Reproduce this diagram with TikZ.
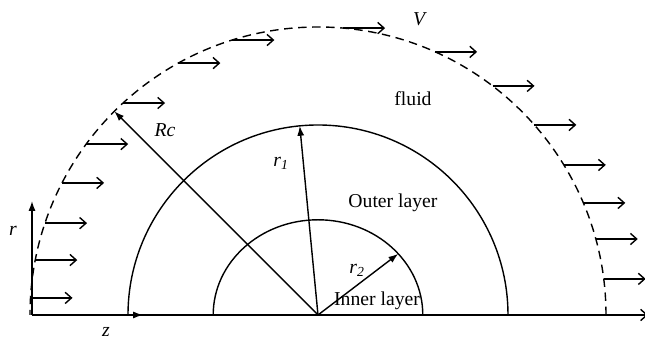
\documentclass[tikz,border=0pt]{standalone}
\usepackage{fontspec}
\setmainfont{Liberation Serif}
\usetikzlibrary{arrows.meta}

\tikzset{
  velarrow/.style={-{Straight Barb[length=4.5pt,width=8pt]}},
  radiusarrow/.style={-{Latex[length=7pt,width=5pt]}},
  boundary/.style={dash pattern=on 6pt off 4pt}
}

\begin{document}
\begin{tikzpicture}[line width=1pt, font=\fontsize{14}{16}\selectfont]
\useasboundingbox (-7.95,-0.625) rectangle (8.175,7.875);

% Centre and axes
\coordinate (O) at (0,0);
\coordinate (axisorig) at (-7.15,0);
\coordinate (rtip) at (-7.15,2.85);
\coordinate (ztip) at (-4.375,0);
\coordinate (baseend) at (7.2,0);
\draw (axisorig) -- (baseend);
\draw[radiusarrow] (axisorig) -- (rtip);
\draw[radiusarrow] (axisorig) -- (ztip);
\node (rlabel) at (-7.625,2.1) {\textit{r}};
\node (zlabel) at (-5.3,-0.425) {\textit{z}};

% Layers
\draw[boundary] (7.2,0) arc[start angle=0, end angle=180, radius=7.2];
\draw (4.75,0) arc[start angle=0, end angle=180, radius=4.75];
\draw (2.62,0) arc[start angle=0, end angle=180, x radius=2.62, y radius=2.38];

% Radii
\coordinate (Rctip) at (135:7.2);
\coordinate (ronetip) at (95.5:4.75);
\coordinate (rtwotip) at ({2.62*cos(40)},{2.38*sin(40)});
\draw[radiusarrow] (O) -- (Rctip);
\draw[radiusarrow] (O) -- (ronetip);
\draw[radiusarrow] (O) -- (rtwotip);
\node (Rclabel) at (-3.825,4.625) {\textit{Rc}};
\node (ronelabel) at (-0.925,3.8) {\textit{r}\textsubscript{\textit{1}}};
\node (rtwolabel) at (0.975,1.125) {\textit{r}\textsubscript{\textit{2}}};

% Region labels
\node (innerlabel) at (1.475,0.35) {Inner layer};
\node (outerlabel) at (1.875,2.8) {Outer layer};
\node (fluidlabel) at (2.375,5.4) {fluid};
\node (Vlabel) at (2.55,7.4) {\textit{V}};

% Velocity on the boundary
\foreach \a in {0,7.2,15.3,22.9,31.4,41.3,52.7,66,85,107.3,119,132.6,143.6,152.7,161.4,169,176.6}
  \draw[velarrow] (\a:7.2) -- ++(1.05,0);
\end{tikzpicture}
\end{document}
